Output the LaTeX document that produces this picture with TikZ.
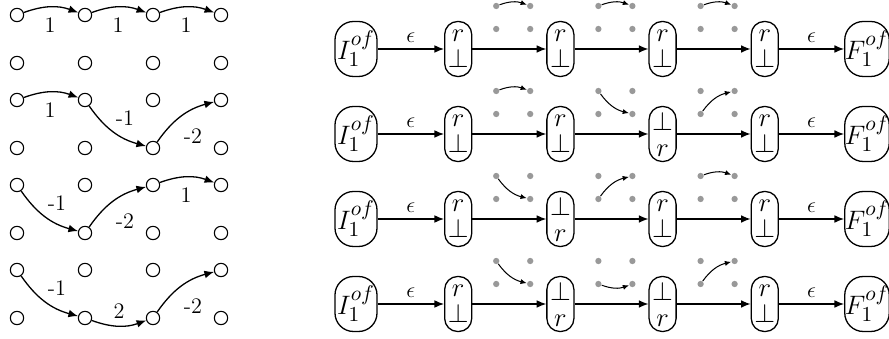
\RequirePackage{fix-cm}
\documentclass[tikz,border=0pt]{standalone}
\usetikzlibrary{arrows.meta}
\DeclareMathSizes{14.4}{14.4}{11.5}{8}
\begin{document}
\begin{tikzpicture}[x=0.54pt,y=-0.54pt,
  pt/.style={circle,draw,line width=0.6pt,minimum size=7.2pt,inner sep=0pt},
  lbl/.style={inner sep=0pt,font=\fontsize{12}{14}\selectfont},
  arr/.style={-{Latex[length=5.2pt,width=4.2pt]},line width=0.7pt},
  dot/.style={circle,fill=black!40,minimum size=3.4pt,inner sep=0pt},
  darr/.style={-{Latex[length=3.4pt,width=2.8pt]},line width=0.55pt},
  st/.style={draw,line width=0.7pt,rounded corners=7pt,minimum width=14.6pt,minimum height=29.7pt,inner sep=0pt,align=center,font=\fontsize{14.4}{14.2}\selectfont},
  io/.style={draw,line width=0.7pt,rounded corners=10pt,minimum width=22.7pt,minimum height=29.7pt,inner sep=0pt,font=\Large},
  lTT/.style={lbl,xshift=-0.5pt,yshift=-10pt},
  lTB/.style={lbl,xshift=6.2pt,yshift=7.6pt},
  lBT/.style={lbl,xshift=6.2pt,yshift=-10.8pt},
  lBB/.style={lbl,yshift=8.1pt},
  eps/.style={lbl,above=3.2pt}
  ]
\useasboundingbox (0,0) rectangle (889,339);

% ---------- left grid ----------
\foreach \k in {0,...,3}{
  \foreach \c in {0,...,3}{
    \node[pt] (p\k t\c) at ({17+68*\c},{15+85*\k}) {};
    \node[pt] (p\k b\c) at ({17+68*\c},{63+85*\k}) {};
  }
}
% pair 0
\draw[arr] (p0t0) to[bend left=20] node[lTT] {1} (p0t1);
\draw[arr] (p0t1) to[bend left=20] node[lTT] {1} (p0t2);
\draw[arr] (p0t2) to[bend left=20] node[lTT] {1} (p0t3);
% pair 1
\draw[arr] (p1t0) to[bend left=20] node[lTT] {1} (p1t1);
\draw[arr] (p1t1) to[bend right=20] node[lTB] {-1} (p1b2);
\draw[arr] (p1b2) to[bend left=20] node[lBT] {-2} (p1t3);
% pair 2
\draw[arr] (p2t0) to[bend right=20] node[lTB] {-1} (p2b1);
\draw[arr] (p2b1) to[bend left=20] node[lBT] {-2} (p2t2);
\draw[arr] (p2t2) to[bend left=20] node[lTT] {1} (p2t3);
% pair 3
\draw[arr] (p3t0) to[bend right=20] node[lTB] {-1} (p3b1);
\draw[arr] (p3b1) to[bend right=20] node[lBB] {2} (p3b2);
\draw[arr] (p3b2) to[bend left=20] node[lBT] {-2} (p3t3);

% ---------- right automata ----------
\foreach \k in {0,...,3}{
  \foreach \g/\x in {1/458.2,2/560.4,3/662.6}{
    \node[dot] (d\k\g tl) at ({\x+38},{6+85*\k}) {};
    \node[dot] (d\k\g tr) at ({\x+72},{6+85*\k}) {};
    \node[dot] (d\k\g bl) at ({\x+38},{29+85*\k}) {};
    \node[dot] (d\k\g br) at ({\x+72},{29+85*\k}) {};
  }
}

% row 0
\node[io] (I0) at (356,49) {$I_1^{of}$};
\node[st] (s01) at (458.2,49) {$r$\\$\bot$};
\node[st] (s02) at (560.4,49) {$r$\\$\bot$};
\node[st] (s03) at (662.6,49) {$r$\\$\bot$};
\node[st] (s04) at (764.8,49) {$r$\\$\bot$};
\node[io] (F0) at (867,49) {$F_1^{of}$};
% row 1
\node[io] (I1) at (356,134) {$I_1^{of}$};
\node[st] (s11) at (458.2,134) {$r$\\$\bot$};
\node[st] (s12) at (560.4,134) {$r$\\$\bot$};
\node[st] (s13) at (662.6,134) {$\bot$\\$r$};
\node[st] (s14) at (764.8,134) {$r$\\$\bot$};
\node[io] (F1) at (867,134) {$F_1^{of}$};
% row 2
\node[io] (I2) at (356,219) {$I_1^{of}$};
\node[st] (s21) at (458.2,219) {$r$\\$\bot$};
\node[st] (s22) at (560.4,219) {$\bot$\\$r$};
\node[st] (s23) at (662.6,219) {$r$\\$\bot$};
\node[st] (s24) at (764.8,219) {$r$\\$\bot$};
\node[io] (F2) at (867,219) {$F_1^{of}$};
% row 3
\node[io] (I3) at (356,304) {$I_1^{of}$};
\node[st] (s31) at (458.2,304) {$r$\\$\bot$};
\node[st] (s32) at (560.4,304) {$\bot$\\$r$};
\node[st] (s33) at (662.6,304) {$\bot$\\$r$};
\node[st] (s34) at (764.8,304) {$r$\\$\bot$};
\node[io] (F3) at (867,304) {$F_1^{of}$};

\foreach \k in {0,...,3}{
  \draw[arr] (I\k) -- node[eps] {$\epsilon$} (s\k1);
  \draw[arr] (s\k1) -- (s\k2);
  \draw[arr] (s\k2) -- (s\k3);
  \draw[arr] (s\k3) -- (s\k4);
  \draw[arr] (s\k4) -- node[eps] {$\epsilon$} (F\k);
}

% dot-grid transitions
\draw[darr] (d01tl) to[bend left=20] (d01tr);
\draw[darr] (d02tl) to[bend left=20] (d02tr);
\draw[darr] (d03tl) to[bend left=20] (d03tr);

\draw[darr] (d11tl) to[bend left=20] (d11tr);
\draw[darr] (d12tl) to[bend right=20] (d12br);
\draw[darr] (d13bl) to[bend left=20] (d13tr);

\draw[darr] (d21tl) to[bend right=20] (d21br);
\draw[darr] (d22bl) to[bend left=20] (d22tr);
\draw[darr] (d23tl) to[bend left=20] (d23tr);

\draw[darr] (d31tl) to[bend right=20] (d31br);
\draw[darr] (d32bl) to[bend right=20] (d32br);
\draw[darr] (d33bl) to[bend left=20] (d33tr);
\end{tikzpicture}
\end{document}
